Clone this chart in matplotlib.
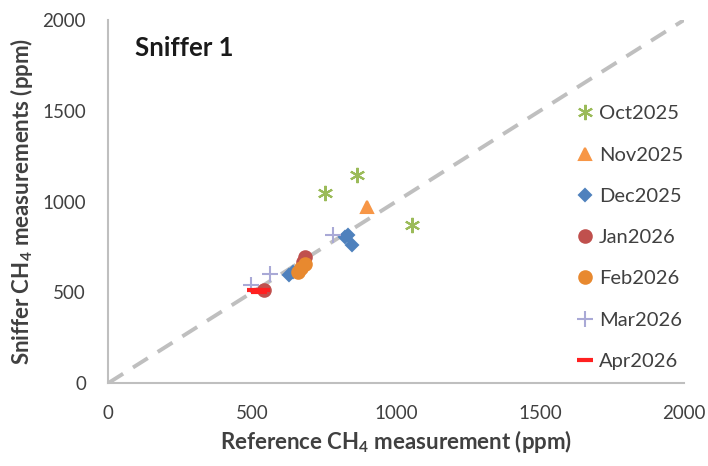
import matplotlib
matplotlib.use("Agg")
from matplotlib import pyplot as plt

plt.rcParams['font.family'] = ['Lato', 'DejaVu Sans']
plt.rcParams['mathtext.fontset'] = 'custom'
plt.rcParams['mathtext.rm'] = 'Lato:bold'
plt.rcParams['mathtext.it'] = 'Lato:bold'
plt.rcParams['mathtext.bf'] = 'Lato:bold'

# values (reference ppm, sniffer ppm)
oct_ref = [753, 865, 1056]
oct_sniff = [1047, 1146, 870]
nov_ref = [899]
nov_sniff = [970]
dec_ref = [823, 833, 847, 628, 642]
dec_sniff = [804, 815, 760, 595, 612]
jan_ref = [684, 677, 540]
jan_sniff = [694, 667, 512]
feb_ref = [684, 670, 660]
feb_sniff = [656, 634, 612]
mar_ref = [781, 562, 497]
mar_sniff = [815, 601, 540]
apr_ref = [510, 535, 525]
apr_sniff = [512, 512, 500]

ref_line = [0, 2000]

series = [
    ('Oct2025', oct_ref, oct_sniff, (6, 2, 0), '#9bbb59', 11),
    ('Nov2025', nov_ref, nov_sniff, '^', '#f79646', 9),
    ('Dec2025', dec_ref, dec_sniff, 'D', '#4f81bd', 6),
    ('Jan2026', jan_ref, jan_sniff, 'o', '#c0504d', 9),
    ('Feb2026', feb_ref, feb_sniff, 'o', '#e8892f', 9),
    ('Mar2026', mar_ref, mar_sniff, '+', '#a9a9d6', 11),
    ('Apr2026', apr_ref, apr_sniff, '_', '#ff2020', 11),
]

fig = plt.figure(figsize=(7.08, 4.66), dpi=100)
ax = fig.add_axes([0.153, 0.178, 0.813, 0.779])

ax.plot(ref_line, ref_line, color='#bfbfbf', lw=2.8, dashes=(4.5, 3), zorder=1)

for label, xs, ys, marker, color, size in series:
    lw = 3 if marker == '_' else 1.5
    ax.plot(xs, ys, linestyle='none', marker=marker, color=color,
            markersize=size, markeredgewidth=lw, label=label, zorder=3)

ax.set_xlim(0, 2000)
ax.set_ylim(0, 2000)
ax.set_xticks([0, 500, 1000, 1500, 2000])
ax.set_yticks([0, 500, 1000, 1500, 2000])
ax.tick_params(length=0, labelsize=13.5, colors='#404040')
ax.tick_params(axis='x', pad=16)
ax.tick_params(axis='y', pad=16)
for s in ['top', 'right']:
    ax.spines[s].set_visible(False)
for s in ['left', 'bottom']:
    ax.spines[s].set_color('#bfbfbf')
    ax.spines[s].set_linewidth(1.5)

ax.set_xlabel('Reference CH$_4$ measurement (ppm)', fontsize=16,
              fontweight='bold', color='#404040', labelpad=4)
ax.set_ylabel('Sniffer CH$_4$ measurements (ppm)', fontsize=16,
              fontweight='bold', color='#404040', labelpad=5)
ax.text(0.047, 0.9, 'Sniffer 1', transform=ax.transAxes, fontsize=18.5,
        fontweight='bold', color='#1a1a1a')

ax.legend(loc='upper left', bbox_to_anchor=(0.782, 0.815), frameon=False,
          fontsize=14.5, labelspacing=1.2, handlelength=0.8,
          handletextpad=0.3, labelcolor='#404040')

fig.savefig('out.png', dpi=100)
